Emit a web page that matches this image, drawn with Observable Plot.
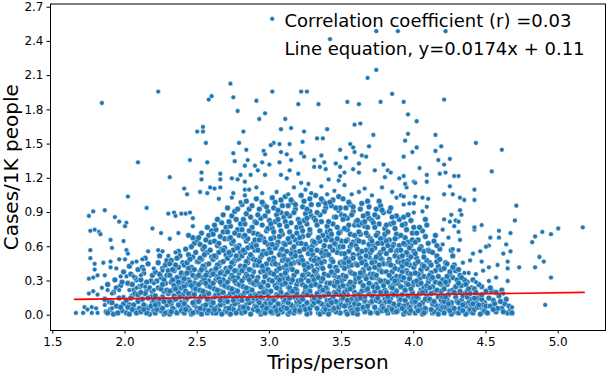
<!DOCTYPE html>
<html><head><meta charset="utf-8">
<script src="https://cdn.jsdelivr.net/npm/d3@7"></script>
<script src="https://cdn.jsdelivr.net/npm/@observablehq/plot@0.6"></script>
<style>body{margin:0;background:#fff}svg{font-family:"DejaVu Sans",sans-serif}</style>
</head><body><div id="chart"></div>
<script>
// ---- data (Trips/person, Cases/1K people) ----
const densePoints = [
[1.87,0.03],[1.89,0.12],[1.92,0.01],[1.94,0.08],[1.96,0.15],[1.98,0.04],[1.88,0.27],[1.93,0.31],[1.97,0.26],[1.99,0.10],[1.90,0.05],[1.95,0.02],[1.86,0.14],[1.92,0.20],[1.98,0.29],[1.99,0.38],[1.94,0.24],[1.91,0.11],[1.97,0.07],[1.88,0.02],
[2.01,0.02],[2.03,0.09],[2.05,0.17],[2.07,0.04],[2.09,0.12],[2.02,0.28],[2.04,0.36],[2.06,0.22],[2.08,0.31],[2.10,0.06],[2.01,0.13],[2.03,0.01],[2.05,0.27],[2.07,0.19],[2.09,0.40],[2.02,0.07],[2.04,0.15],[2.06,0.09],[2.08,0.02],[2.10,0.25],[2.03,0.43],[2.07,0.33],[2.05,0.05],[2.09,0.18],
[2.11,0.03],[2.12,0.14],[2.14,0.08],[2.15,0.22],[2.17,0.01],[2.18,0.30],[2.19,0.11],[2.13,0.37],[2.16,0.45],[2.12,0.26],[2.14,0.19],[2.16,0.06],[2.18,0.16],[2.20,0.04],[2.11,0.31],[2.13,0.09],[2.15,0.02],[2.17,0.24],[2.19,0.35],[2.20,0.13],[2.12,0.42],[2.15,0.29],[2.18,0.08],[2.14,0.50],[2.19,0.21],[2.16,0.15],[2.11,0.20],[2.13,0.05],
[2.21,0.02],[2.22,0.11],[2.23,0.24],[2.24,0.07],[2.25,0.33],[2.26,0.16],[2.27,0.01],[2.28,0.28],[2.29,0.09],[2.30,0.19],[2.21,0.38],[2.23,0.46],[2.24,0.14],[2.25,0.04],[2.26,0.41],[2.27,0.21],[2.28,0.13],[2.29,0.35],[2.22,0.30],[2.24,0.52],[2.26,0.06],[2.28,0.44],[2.30,0.03],[2.21,0.17],[2.23,0.10],[2.25,0.23],[2.27,0.31],[2.29,0.48],[2.22,0.05],[2.26,0.27],[2.28,0.02],[2.30,0.39],[2.24,0.36],[2.21,0.09],[2.27,0.12],[2.29,0.22],
[2.31,0.01],[2.32,0.10],[2.33,0.22],[2.34,0.05],[2.35,0.31],[2.36,0.15],[2.37,0.42],[2.38,0.08],[2.39,0.27],[2.40,0.18],[2.31,0.35],[2.32,0.48],[2.33,0.13],[2.34,0.39],[2.35,0.03],[2.36,0.25],[2.37,0.56],[2.38,0.34],[2.39,0.11],[2.40,0.46],[2.31,0.21],[2.32,0.29],[2.33,0.06],[2.34,0.17],[2.35,0.44],[2.36,0.02],[2.37,0.20],[2.38,0.52],[2.39,0.37],[2.40,0.07],[2.31,0.12],[2.33,0.40],[2.35,0.14],[2.36,0.33],[2.37,0.09],[2.39,0.24],[2.40,0.30],[2.32,0.03],[2.34,0.26],[2.38,0.16],[2.36,0.50],[2.33,0.31],[2.35,0.23],[2.39,0.04],[2.31,0.45],[2.37,0.29],
[2.41,0.02],[2.42,0.13],[2.43,0.27],[2.44,0.06],[2.45,0.38],[2.46,0.19],[2.47,0.51],[2.48,0.09],[2.49,0.33],[2.50,0.22],[2.41,0.44],[2.42,0.58],[2.43,0.15],[2.44,0.31],[2.45,0.04],[2.46,0.42],[2.47,0.24],[2.48,0.63],[2.49,0.12],[2.50,0.47],[2.41,0.25],[2.42,0.36],[2.43,0.07],[2.44,0.53],[2.45,0.17],[2.46,0.01],[2.47,0.35],[2.48,0.28],[2.49,0.55],[2.50,0.06],[2.41,0.10],[2.42,0.21],[2.43,0.46],[2.44,0.19],[2.45,0.29],[2.46,0.60],[2.47,0.11],[2.48,0.40],[2.49,0.03],[2.50,0.34],[2.42,0.05],[2.44,0.41],[2.46,0.26],[2.48,0.18],[2.50,0.66],[2.43,0.37],[2.45,0.49],[2.47,0.02],[2.49,0.23],[2.41,0.32],[2.47,0.68],[2.44,0.70],
[2.51,0.03],[2.52,0.15],[2.53,0.29],[2.54,0.08],[2.55,0.41],[2.56,0.20],[2.57,0.55],[2.58,0.11],[2.59,0.35],[2.60,0.24],[2.51,0.47],[2.52,0.62],[2.53,0.17],[2.54,0.33],[2.55,0.05],[2.56,0.44],[2.57,0.26],[2.58,0.70],[2.59,0.13],[2.60,0.51],[2.51,0.27],[2.52,0.38],[2.53,0.01],[2.54,0.58],[2.55,0.18],[2.56,0.09],[2.57,0.37],[2.58,0.30],[2.59,0.64],[2.60,0.07],[2.51,0.12],[2.52,0.22],[2.53,0.49],[2.54,0.21],[2.55,0.31],[2.56,0.66],[2.57,0.14],[2.58,0.45],[2.59,0.04],[2.60,0.39],[2.52,0.06],[2.54,0.43],[2.56,0.28],[2.58,0.19],[2.60,0.74],[2.53,0.40],[2.55,0.53],[2.57,0.02],[2.59,0.25],[2.51,0.35],[2.57,0.77],[2.53,0.72],[2.55,0.60],[2.59,0.57],[2.51,0.68],[2.56,0.35],[2.58,0.04],[2.52,0.50],
[2.61,0.02],[2.62,0.16],[2.63,0.31],[2.64,0.07],[2.65,0.43],[2.66,0.21],[2.67,0.58],[2.68,0.10],[2.69,0.36],[2.70,0.25],[2.61,0.49],[2.62,0.65],[2.63,0.18],[2.64,0.34],[2.65,0.04],[2.66,0.46],[2.67,0.27],[2.68,0.73],[2.69,0.13],[2.70,0.53],[2.61,0.28],[2.62,0.39],[2.63,0.02],[2.64,0.61],[2.65,0.19],[2.66,0.09],[2.67,0.38],[2.68,0.31],[2.69,0.67],[2.70,0.06],[2.61,0.11],[2.62,0.23],[2.63,0.51],[2.64,0.22],[2.65,0.32],[2.66,0.69],[2.67,0.15],[2.68,0.47],[2.69,0.03],[2.70,0.41],[2.62,0.05],[2.64,0.44],[2.66,0.29],[2.68,0.20],[2.70,0.77],[2.63,0.41],[2.65,0.55],[2.67,0.01],[2.69,0.26],[2.61,0.36],[2.67,0.81],[2.63,0.75],[2.65,0.63],[2.69,0.59],[2.61,0.71],[2.66,0.37],[2.68,0.57],[2.62,0.52],[2.64,0.84],[2.70,0.16],[2.66,0.13],[2.62,0.79],[2.68,0.88],
[2.71,0.03],[2.72,0.17],[2.73,0.32],[2.74,0.08],[2.75,0.45],[2.76,0.22],[2.77,0.60],[2.78,0.11],[2.79,0.37],[2.80,0.26],[2.71,0.50],[2.72,0.67],[2.73,0.19],[2.74,0.35],[2.75,0.05],[2.76,0.48],[2.77,0.28],[2.78,0.75],[2.79,0.14],[2.80,0.55],[2.71,0.29],[2.72,0.40],[2.73,0.01],[2.74,0.63],[2.75,0.20],[2.76,0.10],[2.77,0.39],[2.78,0.33],[2.79,0.70],[2.80,0.07],[2.71,0.12],[2.72,0.24],[2.73,0.53],[2.74,0.23],[2.75,0.33],[2.76,0.72],[2.77,0.16],[2.78,0.49],[2.79,0.04],[2.80,0.43],[2.72,0.06],[2.74,0.46],[2.76,0.30],[2.78,0.21],[2.80,0.80],[2.73,0.42],[2.75,0.57],[2.77,0.02],[2.79,0.27],[2.71,0.38],[2.77,0.84],[2.73,0.78],[2.75,0.65],[2.79,0.61],[2.71,0.73],[2.76,0.39],[2.78,0.59],[2.72,0.55],[2.74,0.87],[2.80,0.17],[2.76,0.91],[2.72,0.82],[2.78,0.93],[2.75,0.13],[2.71,0.94],[2.79,0.50],[2.73,0.68],[2.77,0.52],
[2.81,0.02],[2.82,0.18],[2.83,0.33],[2.84,0.09],[2.85,0.46],[2.86,0.23],[2.87,0.61],[2.88,0.12],[2.89,0.38],[2.90,0.27],[2.81,0.52],[2.82,0.69],[2.83,0.20],[2.84,0.36],[2.85,0.06],[2.86,0.50],[2.87,0.29],[2.88,0.77],[2.89,0.15],[2.90,0.57],[2.81,0.30],[2.82,0.41],[2.83,0.03],[2.84,0.65],[2.85,0.21],[2.86,0.11],[2.87,0.40],[2.88,0.34],[2.89,0.72],[2.90,0.08],[2.81,0.13],[2.82,0.25],[2.83,0.55],[2.84,0.24],[2.85,0.34],[2.86,0.74],[2.87,0.17],[2.88,0.51],[2.89,0.05],[2.90,0.44],[2.82,0.07],[2.84,0.47],[2.86,0.31],[2.88,0.22],[2.90,0.82],[2.83,0.43],[2.85,0.59],[2.87,0.01],[2.89,0.28],[2.81,0.39],[2.87,0.86],[2.83,0.80],[2.85,0.67],[2.89,0.63],[2.81,0.75],[2.86,0.40],[2.88,0.60],[2.82,0.57],[2.84,0.89],[2.90,0.18],[2.86,0.93],[2.82,0.84],[2.88,0.96],[2.85,0.14],[2.81,0.97],[2.89,0.49],[2.83,0.70],[2.87,0.53],[2.84,1.00],[2.90,0.66],
[2.94,0.01],[2.91,0.07],[2.98,0.12],[2.93,0.19],[2.96,0.04],[2.99,0.26],[2.92,0.33],[2.95,0.15],[2.97,0.41],[3.00,0.09],[2.91,0.48],[2.96,0.56],[2.93,0.27],[2.99,0.62],[2.94,0.38],[2.97,0.22],[2.92,0.71],[2.98,0.45],[2.95,0.79],[3.00,0.31],[2.93,0.03],[2.97,0.10],[2.91,0.17],[2.99,0.05],[2.95,0.24],[2.92,0.13],[2.98,0.36],[2.94,0.51],[2.96,0.29],[3.00,0.58],[2.92,0.44],[2.96,0.67],[2.94,0.85],[2.98,0.74],[2.91,0.61],[2.99,0.91],[2.95,0.53],[2.97,0.64],[2.93,0.93],[3.00,0.83],[2.97,0.02],[2.91,0.30],[2.95,0.08],[2.99,0.18],[2.93,0.47],[2.96,0.39],[2.92,0.57],[2.98,0.21],[2.94,0.69],[3.00,0.14],[2.96,0.97],[2.92,0.88],[2.99,0.76],[2.94,0.25],[2.98,0.54],[2.91,0.81],[2.97,0.34],[2.95,0.43],[2.93,0.66],[2.99,0.40],[2.91,1.02],[2.97,0.87],[2.95,0.99],[2.98,0.06],[2.93,0.11],[2.96,0.20],[2.92,0.04],[2.94,0.16],[3.00,0.49],[2.98,0.95],
[3.02,0.02],[3.07,0.09],[3.04,0.14],[3.09,0.03],[3.01,0.21],[3.06,0.28],[3.03,0.06],[3.08,0.35],[3.05,0.18],[3.10,0.42],[3.03,0.50],[3.08,0.57],[3.01,0.37],[3.06,0.64],[3.04,0.26],[3.09,0.71],[3.02,0.45],[3.07,0.79],[3.05,0.33],[3.10,0.86],[3.06,0.01],[3.01,0.11],[3.09,0.16],[3.04,0.07],[3.07,0.23],[3.02,0.30],[3.10,0.12],[3.05,0.39],[3.03,0.47],[3.08,0.20],[3.01,0.55],[3.05,0.61],[3.09,0.48],[3.03,0.68],[3.07,0.53],[3.02,0.76],[3.06,0.44],[3.10,0.63],[3.04,0.82],[3.08,0.90],[3.05,0.04],[3.09,0.27],[3.02,0.15],[3.06,0.10],[3.03,0.36],[3.08,0.05],[3.04,0.59],[3.10,0.32],[3.01,0.67],[3.07,0.41],[3.03,0.94],[3.08,0.74],[3.05,0.88],[3.01,0.80],[3.09,0.96],[3.06,0.84],[3.04,0.99],[3.02,0.62],[3.10,0.52],[3.07,0.69],[3.02,1.03],[3.08,1.01],[3.05,0.24],[3.01,0.03],[3.09,0.58],[3.04,0.45],[3.06,0.17],[3.03,0.13],[3.07,0.31],[3.10,0.07],[3.06,0.92],[3.03,0.73],
[3.13,0.01],[3.18,0.08],[3.11,0.13],[3.16,0.05],[3.14,0.20],[3.19,0.27],[3.12,0.34],[3.17,0.16],[3.15,0.41],[3.20,0.10],[3.11,0.49],[3.16,0.58],[3.13,0.25],[3.18,0.66],[3.12,0.39],[3.19,0.22],[3.14,0.73],[3.17,0.46],[3.15,0.81],[3.20,0.30],[3.14,0.03],[3.19,0.12],[3.12,0.18],[3.17,0.06],[3.15,0.29],[3.20,0.14],[3.11,0.37],[3.16,0.51],[3.13,0.32],[3.18,0.55],[3.12,0.44],[3.16,0.69],[3.14,0.87],[3.19,0.77],[3.11,0.62],[3.18,0.93],[3.15,0.54],[3.17,0.60],[3.13,0.96],[3.20,0.84],[3.17,0.02],[3.11,0.28],[3.15,0.09],[3.19,0.19],[3.13,0.48],[3.16,0.40],[3.12,0.56],[3.18,0.23],[3.14,0.64],[3.20,0.47],[3.16,0.99],[3.12,0.89],[3.19,0.72],[3.14,0.24],[3.18,0.52],[3.11,0.82],[3.17,0.35],[3.15,0.45],[3.13,0.67],[3.19,0.38],[3.11,1.04],[3.17,0.90],[3.15,1.01],[3.18,0.04],[3.13,0.11],[3.16,0.21],[3.12,0.06],[3.14,0.15],[3.20,0.63],[3.18,0.97],[3.12,0.78],[3.16,0.31],
[3.21,0.03],[3.26,0.10],[3.23,0.15],[3.28,0.02],[3.25,0.22],[3.30,0.29],[3.22,0.07],[3.27,0.36],[3.24,0.19],[3.29,0.43],[3.22,0.51],[3.27,0.59],[3.25,0.38],[3.30,0.65],[3.23,0.27],[3.28,0.72],[3.21,0.46],[3.26,0.80],[3.24,0.33],[3.29,0.87],[3.26,0.01],[3.21,0.12],[3.29,0.17],[3.24,0.08],[3.27,0.24],[3.22,0.31],[3.30,0.13],[3.25,0.40],[3.23,0.48],[3.28,0.21],[3.21,0.56],[3.25,0.62],[3.29,0.49],[3.23,0.69],[3.27,0.54],[3.22,0.77],[3.26,0.45],[3.30,0.61],[3.24,0.83],[3.28,0.91],[3.25,0.05],[3.29,0.26],[3.22,0.16],[3.26,0.11],[3.23,0.35],[3.28,0.06],[3.24,0.58],[3.30,0.34],[3.21,0.68],[3.27,0.42],[3.23,0.95],[3.28,0.75],[3.25,0.89],[3.21,0.81],[3.29,0.97],[3.26,0.85],[3.24,1.00],[3.22,0.63],[3.30,0.53],[3.27,0.70],[3.22,1.05],[3.28,1.02],[3.25,0.25],[3.21,0.04],[3.29,0.57],[3.24,0.44],[3.26,0.18],[3.23,0.14],[3.27,0.30],[3.30,0.09],[3.26,0.93],[3.23,0.74],
[3.34,0.02],[3.39,0.09],[3.32,0.14],[3.37,0.04],[3.35,0.21],[3.40,0.28],[3.33,0.35],[3.38,0.17],[3.36,0.42],[3.31,0.11],[3.32,0.50],[3.37,0.57],[3.34,0.26],[3.39,0.66],[3.33,0.40],[3.40,0.23],[3.35,0.74],[3.38,0.47],[3.36,0.82],[3.31,0.31],[3.35,0.01],[3.40,0.13],[3.33,0.19],[3.38,0.07],[3.36,0.30],[3.31,0.15],[3.32,0.38],[3.37,0.52],[3.34,0.33],[3.39,0.56],[3.33,0.45],[3.37,0.70],[3.35,0.88],[3.40,0.78],[3.32,0.63],[3.39,0.94],[3.36,0.55],[3.38,0.61],[3.34,0.97],[3.31,0.85],[3.38,0.03],[3.32,0.27],[3.36,0.10],[3.40,0.20],[3.34,0.49],[3.37,0.41],[3.33,0.57],[3.39,0.24],[3.35,0.65],[3.31,0.48],[3.37,1.00],[3.33,0.90],[3.40,0.73],[3.35,0.25],[3.39,0.53],[3.32,0.83],[3.38,0.36],[3.36,0.46],[3.34,0.68],[3.31,0.39],[3.32,1.05],[3.38,0.91],[3.36,1.02],[3.39,0.05],[3.34,0.12],[3.37,0.22],[3.33,0.06],[3.35,0.16],[3.31,0.64],[3.39,0.98],[3.33,0.79],[3.37,0.32],
[3.42,0.04],[3.47,0.11],[3.44,0.16],[3.49,0.02],[3.41,0.19],[3.46,0.30],[3.43,0.08],[3.48,0.33],[3.45,0.20],[3.50,0.44],[3.43,0.48],[3.48,0.59],[3.41,0.35],[3.46,0.62],[3.44,0.28],[3.49,0.73],[3.42,0.43],[3.47,0.77],[3.45,0.35],[3.50,0.88],[3.46,0.03],[3.41,0.09],[3.49,0.18],[3.44,0.05],[3.47,0.25],[3.42,0.28],[3.50,0.14],[3.45,0.37],[3.43,0.49],[3.48,0.22],[3.41,0.53],[3.45,0.63],[3.49,0.46],[3.43,0.66],[3.47,0.55],[3.42,0.74],[3.46,0.42],[3.50,0.65],[3.44,0.80],[3.48,0.92],[3.45,0.06],[3.49,0.25],[3.42,0.13],[3.46,0.12],[3.43,0.38],[3.48,0.07],[3.44,0.57],[3.50,0.30],[3.41,0.69],[3.47,0.39],[3.43,0.96],[3.48,0.72],[3.45,0.86],[3.41,0.82],[3.49,0.94],[3.46,0.86],[3.44,1.01],[3.42,0.60],[3.50,0.54],[3.47,0.67],[3.42,0.99],[3.48,1.04],[3.45,0.26],[3.41,0.01],[3.49,0.60],[3.44,0.47],[3.46,0.19],[3.43,0.11],[3.47,0.29],[3.50,0.09],[3.46,0.94],[3.43,0.71],
[3.53,0.03],[3.58,0.06],[3.51,0.15],[3.56,0.07],[3.54,0.18],[3.59,0.29],[3.52,0.32],[3.57,0.14],[3.55,0.43],[3.60,0.12],[3.51,0.47],[3.56,0.60],[3.53,0.23],[3.58,0.64],[3.52,0.41],[3.59,0.20],[3.54,0.75],[3.57,0.44],[3.55,0.79],[3.60,0.32],[3.54,0.01],[3.59,0.10],[3.52,0.20],[3.57,0.04],[3.55,0.27],[3.60,0.16],[3.51,0.35],[3.56,0.49],[3.53,0.34],[3.58,0.53],[3.52,0.46],[3.56,0.71],[3.54,0.85],[3.59,0.79],[3.51,0.60],[3.58,0.91],[3.55,0.56],[3.57,0.62],[3.53,0.94],[3.60,0.82],[3.57,0.04],[3.51,0.26],[3.55,0.11],[3.59,0.17],[3.53,0.50],[3.56,0.38],[3.52,0.54],[3.58,0.25],[3.54,0.66],[3.60,0.45],[3.56,0.97],[3.52,0.87],[3.59,0.70],[3.54,0.22],[3.58,0.50],[3.51,0.84],[3.57,0.37],[3.55,0.47],[3.53,0.65],[3.59,0.36],[3.51,1.02],[3.57,0.88],[3.55,0.99],[3.58,0.02],[3.53,0.09],[3.56,0.23],[3.52,0.08],[3.54,0.13],[3.60,0.61],[3.58,0.95],[3.52,0.76],[3.56,0.29],
[3.61,0.01],[3.66,0.12],[3.63,0.17],[3.68,0.04],[3.65,0.24],[3.70,0.27],[3.62,0.09],[3.67,0.34],[3.64,0.21],[3.69,0.41],[3.62,0.53],[3.67,0.57],[3.65,0.40],[3.70,0.67],[3.63,0.29],[3.68,0.70],[3.61,0.44],[3.66,0.78],[3.64,0.35],[3.69,0.85],[3.66,0.03],[3.61,0.14],[3.69,0.19],[3.64,0.06],[3.67,0.22],[3.62,0.33],[3.70,0.11],[3.65,0.38],[3.63,0.50],[3.68,0.23],[3.61,0.58],[3.65,0.64],[3.69,0.51],[3.63,0.71],[3.67,0.52],[3.62,0.79],[3.66,0.47],[3.70,0.59],[3.64,0.81],[3.68,0.89],[3.65,0.07],[3.69,0.28],[3.62,0.18],[3.66,0.13],[3.63,0.37],[3.68,0.08],[3.64,0.56],[3.70,0.36],[3.61,0.66],[3.67,0.44],[3.63,0.93],[3.68,0.77],[3.65,0.87],[3.61,0.83],[3.69,0.95],[3.66,0.82],[3.64,0.98],[3.62,0.65],[3.70,0.55],[3.67,0.72],[3.68,1.00],[3.65,0.26],[3.61,0.05],[3.69,0.62],[3.64,0.46],[3.66,0.16],[3.63,0.15],[3.67,0.32],[3.70,0.02],[3.62,0.73],
[3.74,0.03],[3.79,0.10],[3.72,0.16],[3.77,0.05],[3.75,0.22],[3.80,0.30],[3.73,0.33],[3.78,0.18],[3.76,0.40],[3.71,0.12],[3.72,0.48],[3.77,0.55],[3.74,0.27],[3.79,0.68],[3.73,0.42],[3.80,0.21],[3.75,0.72],[3.78,0.49],[3.76,0.80],[3.71,0.33],[3.75,0.02],[3.80,0.14],[3.73,0.21],[3.78,0.08],[3.76,0.31],[3.71,0.17],[3.72,0.36],[3.77,0.50],[3.74,0.35],[3.79,0.58],[3.73,0.47],[3.77,0.67],[3.75,0.86],[3.80,0.76],[3.72,0.61],[3.79,0.90],[3.76,0.53],[3.78,0.63],[3.74,0.93],[3.71,0.83],[3.78,0.04],[3.72,0.25],[3.76,0.12],[3.80,0.22],[3.74,0.51],[3.77,0.39],[3.73,0.59],[3.79,0.26],[3.75,0.63],[3.71,0.46],[3.77,0.96],[3.73,0.88],[3.80,0.71],[3.75,0.24],[3.79,0.45],[3.72,0.81],[3.78,0.38],[3.76,0.44],[3.74,0.70],[3.71,0.57],[3.78,0.92],[3.76,1.00],[3.79,0.06],[3.74,0.13],[3.77,0.20],[3.73,0.07],[3.75,0.15],[3.71,0.65],[3.73,0.77],[3.77,0.30],
[3.82,0.02],[3.87,0.08],[3.84,0.15],[3.89,0.04],[3.81,0.20],[3.86,0.27],[3.83,0.07],[3.88,0.34],[3.85,0.19],[3.90,0.40],[3.83,0.49],[3.88,0.56],[3.81,0.38],[3.86,0.62],[3.84,0.25],[3.89,0.69],[3.82,0.45],[3.87,0.76],[3.85,0.32],[3.90,0.84],[3.86,0.03],[3.81,0.12],[3.89,0.17],[3.84,0.06],[3.87,0.22],[3.82,0.29],[3.90,0.13],[3.85,0.38],[3.83,0.46],[3.88,0.21],[3.81,0.54],[3.85,0.60],[3.89,0.47],[3.83,0.66],[3.87,0.52],[3.82,0.73],[3.86,0.43],[3.90,0.61],[3.84,0.80],[3.88,0.87],[3.85,0.05],[3.89,0.28],[3.82,0.16],[3.86,0.10],[3.83,0.35],[3.88,0.03],[3.84,0.57],[3.90,0.31],[3.81,0.65],[3.87,0.41],[3.83,0.91],[3.88,0.71],[3.85,0.86],[3.81,0.79],[3.86,0.81],[3.84,0.94],[3.82,0.61],[3.90,0.51],[3.87,0.67],[3.85,0.24],[3.81,0.04],[3.89,0.57],[3.84,0.44],[3.86,0.18],[3.83,0.12],[3.87,0.30],[3.90,0.09],
[3.93,0.01],[3.98,0.09],[3.91,0.14],[3.96,0.05],[3.94,0.21],[3.99,0.26],[3.92,0.31],[3.97,0.16],[3.95,0.39],[4.00,0.11],[3.91,0.46],[3.96,0.53],[3.93,0.24],[3.98,0.61],[3.92,0.38],[3.99,0.19],[3.94,0.68],[3.97,0.44],[3.95,0.75],[4.00,0.29],[3.94,0.03],[3.99,0.12],[3.92,0.18],[3.97,0.07],[3.95,0.28],[4.00,0.15],[3.91,0.34],[3.96,0.48],[3.93,0.33],[3.98,0.51],[3.92,0.43],[3.96,0.64],[3.94,0.80],[3.99,0.72],[3.91,0.57],[3.98,0.83],[3.95,0.55],[3.97,0.59],[3.93,0.86],[4.00,0.77],[3.97,0.02],[3.91,0.25],[3.95,0.10],[3.99,0.20],[3.93,0.47],[3.96,0.37],[3.92,0.52],[3.98,0.23],[3.94,0.62],[4.00,0.42],[3.96,0.88],[3.92,0.79],[3.99,0.66],[3.94,0.22],[3.98,0.36],[3.91,0.70],[3.97,0.32],[3.95,0.45],[3.93,0.63],[3.98,0.04],[3.93,0.08],[3.96,0.17],[3.92,0.06],[3.94,0.13],[4.00,0.56],[3.96,0.27],
[4.01,0.02],[4.06,0.10],[4.03,0.15],[4.08,0.03],[4.05,0.22],[4.10,0.29],[4.02,0.07],[4.07,0.34],[4.04,0.19],[4.09,0.41],[4.02,0.50],[4.07,0.56],[4.05,0.38],[4.10,0.63],[4.03,0.27],[4.08,0.69],[4.01,0.45],[4.06,0.74],[4.04,0.32],[4.09,0.79],[4.06,0.01],[4.01,0.12],[4.09,0.17],[4.04,0.06],[4.07,0.24],[4.02,0.30],[4.10,0.13],[4.05,0.40],[4.03,0.47],[4.08,0.21],[4.01,0.54],[4.05,0.60],[4.09,0.48],[4.03,0.66],[4.07,0.51],[4.02,0.72],[4.06,0.44],[4.10,0.57],[4.04,0.77],[4.08,0.84],[4.05,0.05],[4.09,0.26],[4.02,0.16],[4.06,0.11],[4.03,0.36],[4.08,0.06],[4.04,0.58],[4.10,0.33],[4.01,0.64],[4.07,0.43],[4.08,0.14],[4.04,0.09],[4.06,0.20],[4.03,0.04],[4.07,0.02],[4.01,0.37],[4.05,0.28],
[4.13,0.02],[4.18,0.08],[4.11,0.14],[4.16,0.04],[4.14,0.20],[4.19,0.27],[4.12,0.32],[4.17,0.16],[4.15,0.39],[4.20,0.11],[4.11,0.46],[4.16,0.52],[4.13,0.25],[4.18,0.58],[4.12,0.37],[4.19,0.21],[4.14,0.65],[4.17,0.43],[4.15,0.70],[4.20,0.31],[4.14,0.03],[4.19,0.13],[4.12,0.19],[4.17,0.06],[4.15,0.29],[4.20,0.16],[4.11,0.35],[4.16,0.47],[4.13,0.33],[4.18,0.49],[4.12,0.44],[4.16,0.61],[4.11,0.56],[4.17,0.34],[4.19,0.40],[4.13,0.55],[4.17,0.01],[4.11,0.24],[4.15,0.09],[4.19,0.05],[4.13,0.10],[4.16,0.22],[4.18,0.28],[4.14,0.12],[4.20,0.07],[4.12,0.05],
[4.21,0.02],[4.26,0.09],[4.23,0.14],[4.28,0.03],[4.25,0.21],[4.30,0.26],[4.22,0.07],[4.27,0.33],[4.24,0.18],[4.29,0.39],[4.22,0.46],[4.27,0.52],[4.25,0.36],[4.23,0.27],[4.28,0.44],[4.21,0.41],[4.26,0.57],[4.24,0.30],[4.26,0.01],[4.21,0.12],[4.29,0.16],[4.24,0.05],[4.27,0.22],[4.22,0.29],[4.30,0.12],[4.25,0.38],[4.23,0.45],[4.28,0.20],[4.25,0.04],[4.29,0.25],[4.22,0.16],[4.26,0.11],[4.23,0.34],[4.28,0.06],[4.30,0.31],[4.27,0.42],[4.21,0.23],[4.24,0.10],
[4.31,0.02],[4.36,0.08],[4.33,0.13],[4.38,0.03],[4.35,0.19],[4.40,0.24],[4.32,0.06],[4.37,0.29],[4.34,0.17],[4.39,0.14],[4.32,0.35],[4.37,0.21],[4.35,0.31],[4.33,0.26],[4.38,0.11],[4.31,0.40],[4.36,0.01],[4.31,0.11],[4.39,0.05],[4.34,0.04],[4.37,0.16],[4.32,0.21],[4.40,0.09],[4.35,0.10],[4.33,0.33],[4.38,0.23],[4.36,0.27],[4.34,0.09],[4.39,0.19],[4.31,0.28],
[4.41,0.02],[4.46,0.07],[4.43,0.12],[4.48,0.03],[4.45,0.17],[4.50,0.21],[4.42,0.05],[4.47,0.25],[4.44,0.15],[4.49,0.11],[4.42,0.23],[4.47,0.14],[4.45,0.27],[4.43,0.20],[4.48,0.09],[4.41,0.31],[4.46,0.01],[4.41,0.10],[4.49,0.04],[4.44,0.07],[4.47,0.18],[4.42,0.15],[4.50,0.08],[4.45,0.09],
[4.51,0.02],[4.53,0.08],[4.55,0.13],[4.57,0.03],[4.59,0.17],[4.61,0.06],[4.63,0.10],[4.65,0.02],[4.67,0.05],[4.52,0.15],[4.54,0.21],[4.56,0.10],[4.58,0.06],[4.60,0.12],[4.62,0.03],[4.64,0.14],[4.66,0.08],[4.68,0.02],[4.53,0.24],[4.57,0.20],[4.55,0.05],[4.61,0.22]
];
const sparsePoints = [
[3.42,2.42],[3.74,2.49],[3.89,2.49],[4.22,2.49],[3.74,2.15],[3.68,2.08],[2.73,2.03],[2.58,1.89],[2.60,1.92],[2.75,1.91],[3.02,1.96],[3.22,1.96],[3.26,1.96],[2.91,1.88],[3.20,1.85],[3.34,1.85],[3.54,1.87],[3.62,1.85],[3.77,1.87],[3.85,1.94],[3.93,1.87],[4.21,1.89],[3.96,1.76],[4.02,1.70],[2.78,1.79],[2.97,1.77],[2.93,1.72],[3.11,1.72],[1.84,1.86],[2.23,1.96],
[2.50,1.61],[2.54,1.65],[2.54,1.61],[2.82,1.61],[3.08,1.63],[3.15,1.64],[3.24,1.61],[3.40,1.63],[3.59,1.67],[3.63,1.68],[3.72,1.58],[3.96,1.59],[3.94,1.53],[4.15,1.58],[4.19,1.48],[4.15,1.44],[4.43,1.51],[4.61,1.45],[4.54,1.26],
[2.56,1.51],[2.79,1.51],[2.84,1.45],[2.75,1.42],[3.03,1.51],[3.07,1.50],[3.14,1.50],[3.01,1.49],[3.23,1.52],[3.33,1.55],[3.37,1.55],[3.56,1.50],[3.69,1.48],[4.02,1.47],[3.99,1.43],[3.93,1.39],
[2.09,1.34],[2.45,1.36],[2.57,1.34],[2.76,1.35],[2.85,1.36],[2.83,1.31],[2.96,1.44],[2.97,1.41],[3.08,1.43],[3.12,1.41],[3.22,1.42],[3.24,1.39],[3.31,1.36],[3.36,1.40],[3.38,1.34],[3.46,1.33],[3.49,1.45],[3.53,1.38],[3.58,1.47],[3.59,1.43],[3.64,1.40],[3.67,1.39],[3.62,1.33],[4.25,1.37],[4.17,1.36],[4.21,1.32],
[2.53,1.25],[2.66,1.24],[2.31,1.21],[2.53,1.19],[2.66,1.19],[2.74,1.20],[2.80,1.23],[2.83,1.17],[2.90,1.31],[2.95,1.34],[3.00,1.32],[2.92,1.27],[2.97,1.23],[3.07,1.34],[3.15,1.36],[3.14,1.27],[3.20,1.24],[3.08,1.23],[3.12,1.20],[3.22,1.16],[3.27,1.15],[3.31,1.30],[3.35,1.30],[3.39,1.28],[3.49,1.30],[3.49,1.22],[3.52,1.25],[3.58,1.28],[3.62,1.25],[3.73,1.27],[3.79,1.32],[3.82,1.27],[3.84,1.25],[3.90,1.20],[3.80,1.21],[3.93,1.22],[3.41,1.19],[3.48,1.18],[2.78,1.19],[2.59,1.12],[2.87,1.23],
[4.04,1.29],[4.09,1.23],[4.18,1.24],[4.22,1.25],[4.28,1.22],[4.31,1.22],[4.00,1.17],[4.09,1.17],[4.25,1.13],[3.95,1.12],[4.42,1.10],[3.94,1.15],[4.01,1.16],
[3.05,1.08],[3.17,1.12],[3.29,1.07],[3.36,1.13],[3.45,1.09],[3.57,1.06],[3.66,1.11],[3.71,1.05],[3.85,1.08],[3.13,1.06],[3.25,1.10],[3.52,1.14],[3.62,1.08],[3.78,1.12],[2.95,1.07],[2.91,1.12],[3.40,1.06],[3.88,1.03],
[2.41,1.11],[2.43,1.06],[2.52,1.08],[2.57,1.07],[2.62,1.11],[2.66,1.12],[2.75,1.07],[2.83,1.10],[2.86,1.10],[2.80,0.99],[2.74,1.03],[2.65,1.02],[2.83,1.05],[2.02,1.04],[2.15,0.94],[1.86,0.92],[1.93,0.86],[2.34,0.90],[2.39,0.89],[2.42,0.89],[2.35,0.87],[2.47,0.85],[2.30,0.89],[2.45,0.90],
[1.75,0.87],[1.78,0.91],[1.96,0.82],[2.01,0.81],[2.00,0.78],[1.76,0.74],[1.79,0.75],[1.82,0.73],[1.83,0.71],[2.19,0.76],[1.90,0.66],[1.99,0.65],[1.76,0.57],[1.91,0.59],[2.01,0.57],[2.02,0.54],[1.76,0.50],[1.79,0.45],[1.85,0.46],[1.90,0.47],[1.96,0.49],[2.00,0.49],[2.05,0.46],[2.08,0.47],[2.12,0.49],[2.16,0.56],[2.23,0.57],[2.26,0.56],[2.30,0.52],[2.35,0.55],[2.25,0.72],[2.31,0.67],[2.37,0.72],[2.47,0.78],
[1.79,0.40],[1.81,0.35],[1.75,0.32],[1.78,0.33],[1.86,0.35],[1.90,0.42],[1.94,0.41],[1.97,0.34],[2.01,0.34],[2.06,0.34],[2.11,0.35],[2.13,0.40],[2.20,0.41],[2.26,0.39],[1.84,0.24],[1.75,0.19],[1.78,0.21],[1.81,0.18],[1.88,0.22],[1.91,0.19],[1.96,0.22],[1.99,0.16],[2.03,0.22],[2.08,0.24],[2.14,0.25],[2.20,0.28],[2.20,0.22],
[1.66,0.02],[1.72,0.07],[1.71,0.02],[1.74,0.05],[1.77,0.07],[1.80,0.06],[1.77,0.02],[1.81,0.02],[1.86,0.09],[1.91,0.06],
[5.17,0.77],[5.00,0.76],[4.95,0.71],[4.89,0.73],[4.84,0.69],[4.82,0.64],[4.87,0.51],[4.90,0.47],[4.84,0.42],[4.95,0.33],[4.91,0.09],[4.71,0.96],[4.70,0.83],[4.67,0.72],[4.59,0.74],[4.59,0.68],[4.53,0.68],[4.64,0.62],[4.67,0.56],[4.62,0.54],[4.65,0.47],[4.65,0.41],[4.73,0.42],[4.58,0.44],[4.57,0.33],[4.65,0.30],[4.62,0.19],[4.68,0.07],
[4.47,0.79],[4.42,0.75],[4.52,0.61],[4.50,0.60],[4.46,0.56],[4.47,0.47],[4.52,0.42],[4.48,0.39],[4.52,0.30],[4.43,0.29],[4.43,0.36],[4.38,0.37],[4.41,0.54],[4.39,0.48],[4.34,0.46],[4.35,0.37],[4.31,0.57],[4.32,0.66],[4.31,0.73],[4.32,0.92],[4.33,0.88],[4.42,0.77],[4.21,1.06],[4.27,1.06],[4.32,1.03],[4.35,1.01],[4.42,1.01],[4.10,1.02],[4.06,1.03],[4.01,1.04],[4.00,0.98],[3.93,0.97],[4.09,0.95],[4.06,0.91],[4.00,0.90],[4.26,0.88],[4.21,0.84],[4.29,0.83],[4.25,0.82],[4.31,0.82],[4.20,0.75],[4.28,0.78],[4.24,0.68],[4.27,0.58],[4.20,0.62],[3.91,1.05],[3.93,1.04],[3.97,0.98]
];
// fitted line y = 0.0174x + 0.11 over the data's x range
const fitLine = [[1.65,0.139],[5.18,0.200]];
const xTicks = [1.5,2.0,2.5,3.0,3.5,4.0,4.5,5.0];
const yTicks = [0.0,0.3,0.6,0.9,1.2,1.5,1.8,2.1,2.4,2.7];
const legendLabels = ["Correlation coefficient (r) =0.03","Line equation, y=0.0174x + 0.11"];
const xLabel = "Trips/person";
const yLabel = "Cases/1K people";

const dense = densePoints.map(([x, y]) => ({x, y}));
const sparse = sparsePoints.map(([x, y]) => ({x, y}));
const line = fitLine.map(([x, y]) => ({x, y}));
const fmt = d3.format(".1f");

const chart = Plot.plot({
  width: 610, height: 374,
  marginLeft: 50, marginRight: 5, marginTop: 3.5, marginBottom: 44,
  style: {fontFamily: "DejaVu Sans, sans-serif", fontSize: "12px", color: "#000", background: "#fff"},
  x: {domain: [1.4841, 5.3276], ticks: xTicks, tickFormat: fmt, label: null, tickSize: 3.5, tickPadding: 3},
  y: {domain: [-0.1341, 2.728], ticks: yTicks, tickFormat: fmt, label: null, tickSize: 3.5, tickPadding: 3.5},
  marks: [
    Plot.dot(dense, {x: "x", y: "y", r: 2.9, fill: "#1f77b4", stroke: "white", strokeWidth: 0.4}),
    Plot.dot(sparse, {x: "x", y: "y", r: 2.4, fill: "#1f77b4", stroke: "white", strokeWidth: 0.5}),
    Plot.line(line, {x: "x", y: "y", stroke: "#ff0000", strokeWidth: 1.6}),
    Plot.frame({stroke: "#000", strokeWidth: 1}),
    Plot.dot([legendLabels[0]], {frameAnchor: "top-left", dx: 221.7, dy: 14.8, r: 2.4, fill: "#1f77b4", stroke: "white", strokeWidth: 0.5}),
    Plot.text([legendLabels[0]], {frameAnchor: "top-left", textAnchor: "start", lineAnchor: "middle", dx: 234, dy: 17.4, fontSize: 18, fill: "#000", text: d => d}),
    Plot.text([legendLabels[1]], {frameAnchor: "top-left", textAnchor: "start", lineAnchor: "middle", dx: 234, dy: 45.7, fontSize: 18, fill: "#000", text: d => d}),
    Plot.text([xLabel], {frameAnchor: "bottom", textAnchor: "middle", lineAnchor: "middle", dy: 31.6, fontSize: 20, fill: "#000", text: d => d}),
    Plot.text([yLabel], {frameAnchor: "left", textAnchor: "middle", lineAnchor: "middle", rotate: -90, dx: -39.4, fontSize: 20, fill: "#000", text: d => d})
  ]
});
document.getElementById("chart").appendChild(chart);
</script>
</body></html>
